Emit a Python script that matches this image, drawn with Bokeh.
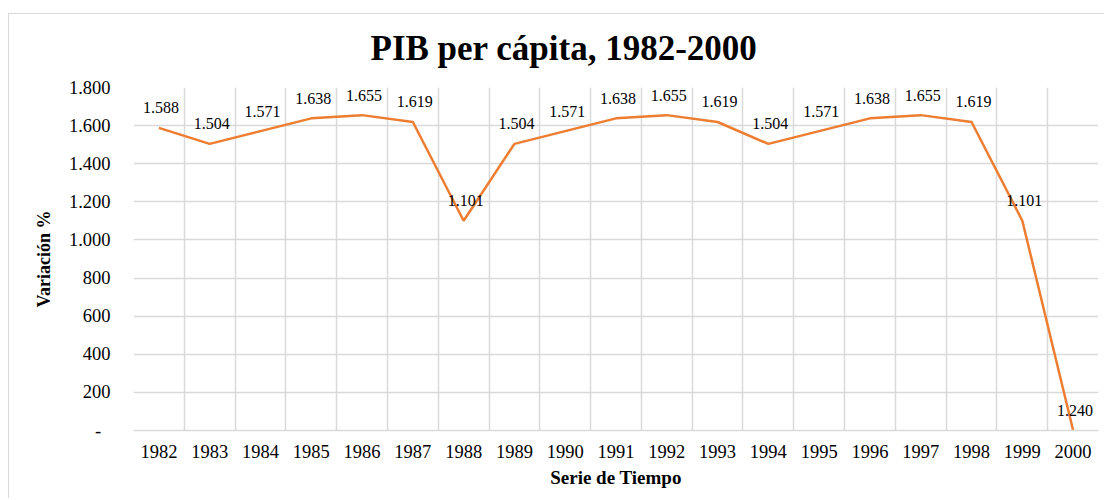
from bokeh.plotting import figure
from bokeh.models import ColumnDataSource, FixedTicker, LabelSet, Range1d, Title
from bokeh.embed import file_html
from bokeh.resources import INLINE

years = [1982, 1983, 1984, 1985, 1986, 1987, 1988, 1989, 1990, 1991,
         1992, 1993, 1994, 1995, 1996, 1997, 1998, 1999, 2000]
values = [1588, 1504, 1571, 1638, 1655, 1619, 1101, 1504, 1571, 1638,
          1655, 1619, 1504, 1571, 1638, 1655, 1619, 1101, 1.24]
value_labels = ["1.588", "1.504", "1.571", "1.638", "1.655", "1.619", "1.101",
                "1.504", "1.571", "1.638", "1.655", "1.619", "1.504", "1.571",
                "1.638", "1.655", "1.619", "1.101", "1.240"]
y_ticks = [0, 200, 400, 600, 800, 1000, 1200, 1400, 1600, 1800]
y_tick_labels = ["-\u00a0\u00a0", "200", "400", "600", "800", "1.000", "1.200",
                 "1.400", "1.600", "1.800"]

FONT = "Liberation Serif"
GRID = "#d9d9d9"
ORANGE = "#ED7D31"

src = ColumnDataSource(dict(x=years, y=values, lab=value_labels))

p = figure(width=1096, height=485, output_backend="svg", toolbar_location=None,
           x_range=Range1d(years[0] - 0.5, years[-1] + 0.5),
           y_range=Range1d(y_ticks[0], y_ticks[-1]),
           min_border_left=124, min_border_right=7, min_border_top=73,
           min_border_bottom=69)
p.margin = (13, 0, 0, 8)
p.styles = {"border-left": "1px solid #d9d9d9", "border-top": "1px solid #d9d9d9"}
p.outline_line_color = None
p.background_fill_color = "white"
p.border_fill_color = "white"

# spacer between title and plot frame
spacer = Title(text=" ", text_font=FONT, text_font_size="10px", standoff=7)
p.add_layout(spacer, "above")
t = Title(text="PIB per cápita, 1982-2000", align="left", offset=237,
          text_font=FONT, text_font_size="35px", text_font_style="bold",
          text_color="black", standoff=0)
p.add_layout(t, "above")

p.line("x", "y", source=src, line_color=ORANGE, line_width=2.5)

labels = LabelSet(x="x", y="y", text="lab", source=src, x_offset=2, y_offset=20,
                  text_align="center", text_baseline="middle",
                  text_font=FONT, text_font_size="16px", text_color="black")
p.add_layout(labels)

# axes
p.xaxis.ticker = FixedTicker(ticks=years)
p.xaxis.major_label_overrides = {yr: str(yr) for yr in years}
p.xaxis.axis_line_color = GRID
p.xaxis.axis_line_width = 1.5
p.xaxis.major_tick_line_color = None
p.xaxis.minor_tick_line_color = None
p.xaxis.major_label_standoff = 8
p.xaxis.major_label_text_font = FONT
p.xaxis.major_label_text_font_size = "18.5px"
p.xaxis.major_label_text_color = "black"
p.xaxis.axis_label = "Serie de Tiempo"
p.xaxis.axis_label_text_font = FONT
p.xaxis.axis_label_text_font_size = "19px"
p.xaxis.axis_label_text_font_style = "bold"
p.xaxis.axis_label_text_color = "black"
p.xaxis.axis_label_standoff = 6

p.yaxis.ticker = FixedTicker(ticks=y_ticks)
p.yaxis.major_label_overrides = dict(zip(y_ticks, y_tick_labels))
p.yaxis.axis_line_color = None
p.yaxis.major_tick_line_color = None
p.yaxis.minor_tick_line_color = None
p.yaxis.major_label_standoff = 17
p.yaxis.major_label_text_font = FONT
p.yaxis.major_label_text_font_size = "18.5px"
p.yaxis.major_label_text_color = "black"
p.yaxis.axis_label = "Variación %"
p.yaxis.axis_label_text_font = FONT
p.yaxis.axis_label_text_font_size = "18px"
p.yaxis.axis_label_text_font_style = "bold"
p.yaxis.axis_label_text_color = "black"
p.yaxis.axis_label_standoff = 12

# grids: horizontal at y ticks, vertical at category boundaries
p.ygrid.ticker = FixedTicker(ticks=y_ticks)
p.ygrid.grid_line_color = GRID
p.ygrid.grid_line_width = 1.5
p.xgrid.ticker = FixedTicker(ticks=[yr - 0.5 for yr in years] + [years[-1] + 0.5])
p.xgrid.grid_line_color = GRID
p.xgrid.grid_line_width = 1.5

open("out.html", "w").write(file_html(p, INLINE))
